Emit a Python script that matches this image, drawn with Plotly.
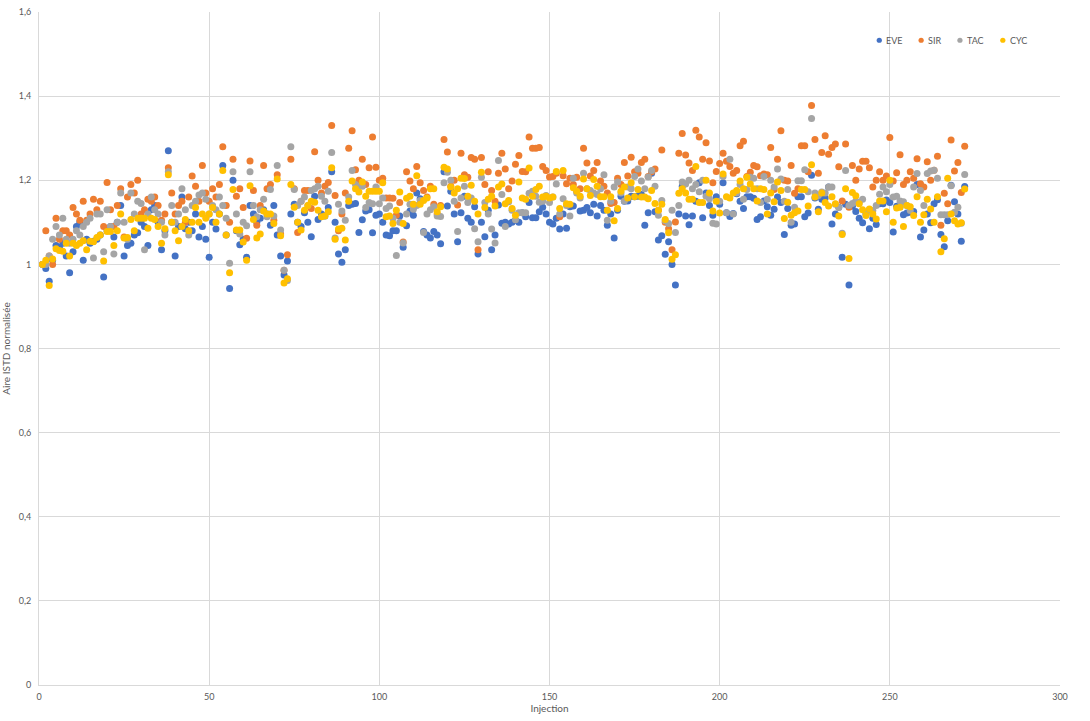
import plotly.graph_objects as go

# Normalised ISTD area per injection (injections 1..272)
injection = list(range(1, 273))

eve = [
    1.00, 0.99, 0.96, 1.01, 1.045, 1.04, 1.05, 1.02, 0.98, 1.03,
    1.09, 1.10, 1.01, 1.06, 1.05, 1.055, 1.06, 1.07, 0.97, 1.08,
    1.09, 1.065, 1.10, 1.14, 1.02, 1.045, 1.05, 1.07, 1.075, 1.10,
    1.09, 1.045, 1.13, 1.14, 1.10, 1.035, 1.08, 1.27, 1.10, 1.02,
    1.09, 1.16, 1.085, 1.10, 1.08, 1.12, 1.065, 1.09, 1.06, 1.017,
    1.10, 1.084, 1.12, 1.235, 1.07, 0.943, 1.20, 1.08, 1.047, 1.06,
    1.017, 1.14, 1.12, 1.10, 1.11, 1.13, 1.12, 1.093, 1.14, 1.07,
    1.02, 0.975, 1.008, 1.12, 1.143, 1.10, 1.09, 1.123, 1.10, 1.066,
    1.162, 1.107, 1.12, 1.115, 1.135, 1.22, 1.10, 1.025, 1.005, 1.035,
    1.14, 1.143, 1.145, 1.076, 1.106, 1.127, 1.13, 1.075, 1.117, 1.12,
    1.10, 1.07, 1.068, 1.08, 1.08, 1.115, 1.041, 1.092, 1.127, 1.117,
    1.17, 1.156, 1.078, 1.07, 1.063, 1.078, 1.07, 1.049, 1.22, 1.139,
    1.174, 1.12, 1.054, 1.123, 1.162, 1.11, 1.10, 1.137, 1.025, 1.10,
    1.066, 1.129, 1.035, 1.07, 1.141, 1.098, 1.10, 1.096, 1.10, 1.105,
    1.10, 1.123, 1.113, 1.147, 1.111, 1.111, 1.125, 1.136, 1.12, 1.10,
    1.096, 1.11, 1.084, 1.12, 1.086, 1.137, 1.139, 1.174, 1.127, 1.129,
    1.135, 1.123, 1.143, 1.115, 1.14, 1.129, 1.093, 1.12, 1.063, 1.129,
    1.162, 1.15, 1.151, 1.162, 1.161, 1.162, 1.166, 1.093, 1.123, 1.217,
    1.125, 1.058, 1.068, 1.024, 1.054, 1.00, 0.951, 1.12, 1.186, 1.115,
    1.094, 1.115, 1.15, 1.194, 1.111, 1.17, 1.14, 1.117, 1.161, 1.143,
    1.194, 1.123, 1.114, 1.121, 1.168, 1.15, 1.133, 1.161, 1.161, 1.157,
    1.107, 1.113, 1.151, 1.137, 1.117, 1.131, 1.16, 1.147, 1.071, 1.133,
    1.093, 1.096, 1.161, 1.161, 1.113, 1.122, 1.212, 1.158, 1.131, 1.155,
    1.158, 1.184, 1.096, 1.12, 1.136, 1.017, 1.143, 0.951, 1.138, 1.126,
    1.11, 1.099, 1.12, 1.085, 1.11, 1.095, 1.144, 1.144, 1.153, 1.147,
    1.077, 1.138, 1.137, 1.118, 1.122, 1.124, 1.126, 1.19, 1.065, 1.082,
    1.12, 1.099, 1.144, 1.154, 1.071, 1.042, 1.104, 1.188, 1.149, 1.12,
    1.055, 1.185,
]

sir = [
    1.00, 1.08, 1.02, 1.00, 1.11, 1.06, 1.08, 1.08, 1.07, 1.135,
    1.12, 1.105, 1.15, 1.105, 1.12, 1.155, 1.13, 1.15, 1.09, 1.195,
    1.13, 1.09, 1.14, 1.18, 1.065, 1.16, 1.19, 1.17, 1.20, 1.12,
    1.13, 1.155, 1.15, 1.16, 1.14, 1.105, 1.12, 1.23, 1.17, 1.12,
    1.14, 1.15, 1.10, 1.16, 1.21, 1.186, 1.15, 1.235, 1.17, 1.15,
    1.18, 1.16, 1.19, 1.28, 1.14, 1.10, 1.25, 1.162, 1.18, 1.135,
    1.062, 1.246, 1.176, 1.093, 1.14, 1.235, 1.18, 1.19, 1.105, 1.213,
    1.072, 0.986, 1.023, 1.25, 1.18, 1.076, 1.15, 1.176, 1.176, 1.133,
    1.268, 1.20, 1.17, 1.186, 1.195, 1.33, 1.164, 1.08, 1.12, 1.17,
    1.276, 1.318, 1.225, 1.20, 1.25, 1.19, 1.23, 1.303, 1.231, 1.20,
    1.205, 1.158, 1.158, 1.157, 1.117, 1.147, 1.053, 1.22, 1.198, 1.18,
    1.233, 1.194, 1.176, 1.16, 1.186, 1.143, 1.12, 1.14, 1.297, 1.267,
    1.186, 1.20, 1.141, 1.264, 1.213, 1.207, 1.254, 1.25, 1.035, 1.254,
    1.19, 1.22, 1.176, 1.15, 1.217, 1.264, 1.227, 1.18, 1.198, 1.238,
    1.259, 1.221, 1.22, 1.303, 1.276, 1.276, 1.278, 1.233, 1.223, 1.208,
    1.209, 1.217, 1.113, 1.211, 1.192, 1.205, 1.19, 1.207, 1.18, 1.276,
    1.241, 1.21, 1.223, 1.242, 1.198, 1.186, 1.17, 1.145, 1.147, 1.205,
    1.19, 1.242, 1.21, 1.255, 1.22, 1.217, 1.242, 1.25, 1.209, 1.22,
    1.227, 1.129, 1.272, 1.10, 1.085, 1.035, 1.101, 1.264, 1.311, 1.26,
    1.241, 1.223, 1.319, 1.303, 1.25, 1.289, 1.246, 1.194, 1.221, 1.24,
    1.264, 1.245, 1.233, 1.217, 1.223, 1.282, 1.293, 1.209, 1.219, 1.235,
    1.232, 1.211, 1.215, 1.213, 1.278, 1.178, 1.25, 1.318, 1.20, 1.198,
    1.235, 1.169, 1.18, 1.282, 1.282, 1.22, 1.378, 1.297, 1.217, 1.266,
    1.306, 1.262, 1.278, 1.286, 1.232, 1.151, 1.286, 1.136, 1.235, 1.20,
    1.227, 1.245, 1.245, 1.23, 1.184, 1.20, 1.22, 1.20, 1.21, 1.302,
    1.198, 1.218, 1.261, 1.19, 1.20, 1.22, 1.205, 1.251, 1.192, 1.184,
    1.244, 1.20, 1.224, 1.257, 1.093, 1.169, 1.144, 1.296, 1.222, 1.242,
    1.171, 1.281,
]

tac = [
    1.00, 1.00, 1.02, 1.06, 1.09, 1.07, 1.11, 1.06, 1.05, 1.06,
    1.08, 1.07, 1.09, 1.10, 1.11, 1.015, 1.12, 1.12, 1.03, 1.13,
    1.09, 1.025, 1.10, 1.17, 1.10, 1.06, 1.17, 1.12, 1.15, 1.145,
    1.035, 1.12, 1.16, 1.13, 1.12, 1.10, 1.07, 1.22, 1.14, 1.10,
    1.12, 1.18, 1.13, 1.07, 1.14, 1.15, 1.165, 1.17, 1.155, 1.12,
    1.14, 1.13, 1.16, 1.14, 1.11, 1.003, 1.22, 1.12, 1.072, 1.10,
    1.092, 1.22, 1.14, 1.113, 1.13, 1.155, 1.113, 1.178, 1.115, 1.235,
    1.082, 0.986, 0.962, 1.28, 1.178, 1.14, 1.15, 1.16, 1.14, 1.176,
    1.18, 1.186, 1.162, 1.15, 1.174, 1.266, 1.063, 1.143, 1.127, 1.105,
    1.16, 1.223, 1.19, 1.186, 1.186, 1.135, 1.147, 1.144, 1.184, 1.144,
    1.158, 1.133, 1.139, 1.11, 1.021, 1.10, 1.051, 1.12, 1.143, 1.131,
    1.14, 1.152, 1.076, 1.12, 1.13, 1.137, 1.115, 1.114, 1.194, 1.219,
    1.20, 1.15, 1.078, 1.158, 1.186, 1.147, 1.158, 1.085, 1.054, 1.207,
    1.147, 1.12, 1.084, 1.051, 1.247, 1.166, 1.09, 1.149, 1.129, 1.106,
    1.123, 1.123, 1.123, 1.169, 1.174, 1.162, 1.148, 1.15, 1.164, 1.147,
    1.16, 1.191, 1.12, 1.156, 1.14, 1.115, 1.205, 1.17, 1.158, 1.217,
    1.18, 1.176, 1.17, 1.166, 1.18, 1.213, 1.105, 1.15, 1.184, 1.196,
    1.17, 1.151, 1.184, 1.18, 1.209, 1.227, 1.198, 1.18, 1.208, 1.223,
    1.186, 1.117, 1.152, 1.104, 1.097, 1.129, 1.076, 1.14, 1.196, 1.191,
    1.20, 1.18, 1.19, 1.173, 1.20, 1.162, 1.156, 1.098, 1.096, 1.15,
    1.209, 1.123, 1.25, 1.12, 1.17, 1.19, 1.155, 1.178, 1.207, 1.205,
    1.18, 1.147, 1.209, 1.155, 1.20, 1.184, 1.227, 1.203, 1.15, 1.178,
    1.10, 1.136, 1.199, 1.199, 1.225, 1.173, 1.347, 1.17, 1.164, 1.172,
    1.17, 1.184, 1.184, 1.143, 1.135, 1.074, 1.223, 1.14, 1.145, 1.151,
    1.147, 1.155, 1.122, 1.13, 1.128, 1.14, 1.167, 1.184, 1.173, 1.19,
    1.16, 1.162, 1.151, 1.149, 1.14, 1.128, 1.184, 1.216, 1.176, 1.14,
    1.216, 1.222, 1.224, 1.205, 1.118, 1.118, 1.118, 1.187, 1.124, 1.136,
    1.098, 1.214,
]

cyc = [
    1.00, 1.01, 0.95, 1.013, 1.037, 1.033, 1.031, 1.05, 1.02, 1.05,
    1.045, 1.05, 1.056, 1.035, 1.055, 1.054, 1.064, 1.07, 1.008, 1.078,
    1.078, 1.045, 1.08, 1.12, 1.063, 1.064, 1.107, 1.08, 1.11, 1.11,
    1.11, 1.086, 1.11, 1.107, 1.09, 1.05, 1.085, 1.213, 1.10, 1.08,
    1.056, 1.09, 1.107, 1.08, 1.10, 1.135, 1.10, 1.12, 1.11, 1.12,
    1.135, 1.10, 1.12, 1.223, 1.07, 0.98, 1.178, 1.082, 1.082, 1.053,
    1.01, 1.187, 1.107, 1.063, 1.072, 1.127, 1.12, 1.12, 1.097, 1.203,
    1.068, 0.956, 0.966, 1.19, 1.136, 1.10, 1.082, 1.129, 1.14, 1.15,
    1.148, 1.129, 1.113, 1.115, 1.125, 1.23, 1.06, 1.084, 1.086, 1.058,
    1.15, 1.198, 1.18, 1.172, 1.196, 1.162, 1.174, 1.174, 1.174, 1.174,
    1.194, 1.113, 1.115, 1.097, 1.129, 1.172, 1.097, 1.157, 1.162, 1.143,
    1.211, 1.143, 1.152, 1.158, 1.18, 1.18, 1.125, 1.137, 1.231, 1.227,
    1.184, 1.17, 1.18, 1.205, 1.204, 1.162, 1.188, 1.15, 1.12, 1.219,
    1.135, 1.155, 1.162, 1.139, 1.184, 1.191, 1.144, 1.152, 1.133, 1.117,
    1.196, 1.158, 1.155, 1.229, 1.162, 1.178, 1.186, 1.16, 1.162, 1.158,
    1.16, 1.221, 1.133, 1.223, 1.144, 1.143, 1.182, 1.174, 1.162, 1.203,
    1.18, 1.164, 1.202, 1.186, 1.161, 1.161, 1.129, 1.161, 1.104, 1.133,
    1.174, 1.184, 1.158, 1.194, 1.161, 1.178, 1.16, 1.16, 1.156, 1.176,
    1.145, 1.129, 1.143, 1.107, 1.075, 1.012, 1.023, 1.169, 1.18, 1.17,
    1.155, 1.155, 1.233, 1.147, 1.147, 1.20, 1.17, 1.127, 1.15, 1.122,
    1.215, 1.161, 1.158, 1.17, 1.176, 1.198, 1.18, 1.207, 1.191, 1.18,
    1.151, 1.18, 1.178, 1.12, 1.17, 1.149, 1.196, 1.176, 1.109, 1.148,
    1.117, 1.123, 1.127, 1.178, 1.178, 1.139, 1.237, 1.16, 1.125, 1.17,
    1.147, 1.139, 1.161, 1.144, 1.115, 1.071, 1.18, 1.014, 1.171, 1.163,
    1.144, 1.13, 1.116, 1.132, 1.12, 1.108, 1.151, 1.151, 1.125, 1.20,
    1.10, 1.134, 1.136, 1.09, 1.14, 1.137, 1.116, 1.161, 1.10, 1.118,
    1.155, 1.132, 1.10, 1.161, 1.03, 1.061, 1.205, 1.12, 1.104, 1.096,
    1.099, 1.179,
]

series_names = ['EVE', 'SIR', 'TAC', 'CYC']
series_vals = [eve, sir, tac, cyc]
colors = ['#4472C4', '#ED7D31', '#A5A5A5', '#FFC000']

font_fam = 'Lato, Liberation Sans, sans-serif'
grey_txt = '#595959'
grid = '#D9D9D9'

fig = go.Figure()
for name, vals, col in zip(series_names, series_vals, colors):
    fig.add_trace(go.Scatter(
        x=injection, y=vals, mode='markers', name=name,
        marker=dict(color=col, size=7, line=dict(width=0)),
    ))

# small legend drawn like the Excel one: dot + label, top right
leg_x = [0.823, 0.864, 0.902, 0.944]
leg_y = 0.958
for name, col, lx in zip(series_names, colors, leg_x):
    fig.add_shape(type='circle', xref='paper', yref='paper',
                  xsizemode='pixel', ysizemode='pixel',
                  xanchor=lx, yanchor=leg_y, x0=-2.6, x1=2.6, y0=-2.6, y1=2.6,
                  fillcolor=col, line=dict(width=0))
    fig.add_annotation(x=lx + 0.005, y=leg_y, xref='paper', yref='paper',
                       text=name, showarrow=False, xanchor='left', yanchor='middle',
                       font=dict(family=font_fam, size=9, color=grey_txt))

tick_font = dict(family=font_fam, size=9, color=grey_txt)

fig.update_layout(
    width=1090, height=721,
    paper_bgcolor='white', plot_bgcolor='white',
    separators=', ',
    margin=dict(l=37, r=30, t=6, b=36),
    font=dict(family=font_fam, color=grey_txt),
    showlegend=False,
    xaxis=dict(
        range=[0, 300.001], dtick=50, tick0=0,
        showgrid=True, gridcolor=grid, gridwidth=1,
        showline=True, linecolor=grid, zeroline=False,
        ticks='', tickfont=tick_font, ticklabelstandoff=3,
        title=dict(text='Injection', font=dict(family=font_fam, size=10, color=grey_txt), standoff=4),
    ),
    yaxis=dict(
        range=[0, 1.6001], dtick=0.2, tick0=0,
        showgrid=True, gridcolor=grid, gridwidth=1,
        showline=True, linecolor=grid, zeroline=False,
        ticks='', tickfont=tick_font, ticklabelstandoff=5,
        title=dict(text='Aire ISTD normalisée', font=dict(family=font_fam, size=10, color=grey_txt), standoff=6),
    ),
)

# page body has an 8px default margin; drop it so the figure sits at the window origin
fig.write_html('out.html', config={'displayModeBar': False},
               post_script="document.body.style.margin='0';")
